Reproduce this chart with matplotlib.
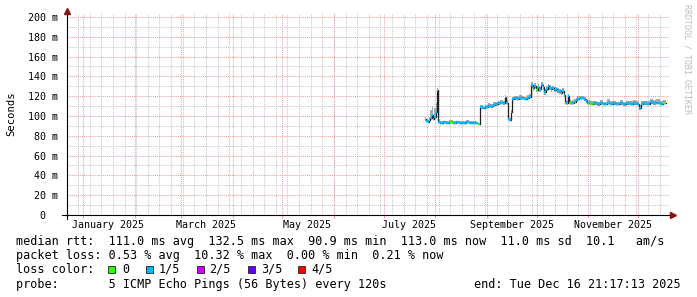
import matplotlib

matplotlib.use("Agg")
import matplotlib.pyplot as plt  # noqa: E402
import numpy as np  # noqa: E402
from matplotlib.patches import Rectangle  # noqa: E402

W, H = 697, 297
MONO = "DejaVu Sans Mono"

# sample start times, days since 2025-01-01
days = [
    205.8, 206.6, 207.4, 208.2, 209.0, 209.8, 210.6, 211.4, 212.2, 212.9, 213.6,
    214.8, 216.5, 218.5, 220.5, 222.5, 224.5, 226.5, 228.5, 230.5, 232.5, 234.5, 236.5, 237.7,
    238.9, 240.5, 242.0, 243.5, 245.0, 246.5, 248.0, 249.5, 251.0, 252.5, 253.9, 254.8, 255.7, 256.6, 257.4,
    258.1, 259.5, 261.0, 262.5, 264.0, 265.5, 267.0, 268.5,
    269.6, 270.5, 271.5, 272.5, 273.5, 274.5, 275.5, 276.5, 277.5, 278.5, 279.5, 280.5, 281.5,
    282.5, 283.5, 284.5, 285.5, 286.5, 287.5, 288.5, 289.3,
    290.1, 291.0, 291.8, 292.6, 293.5, 294.5, 295.5, 296.5, 297.5, 298.5, 299.5, 300.5, 301.5, 302.5, 303.5,
    305.0, 307.0, 309.0, 311.0, 313.0, 315.0, 317.0, 319.0, 321.0, 323.0, 325.0, 327.0, 329.0, 331.0,
    333.0, 334.6, 335.5, 337.0, 339.0, 341.0, 343.0, 345.0, 347.0, 349.0,
]
end_day = 350.8

# median rtt (ms)
median_ms = [
    96.5, 95.0, 94.0, 96.0, 98.0, 101.0, 97.0, 99.0, 104.0, 126.0, 93.5,
    93.0, 93.5, 93.0, 93.5, 92.8, 93.5, 93.2, 93.0, 93.6, 93.0, 93.4, 92.5, 91.5,
    109.0, 108.5, 109.5, 110.5, 110.0, 111.5, 112.0, 113.0, 113.5, 113.0, 119.5, 113.5, 97.0, 96.0, 104.0,
    117.5, 118.0, 117.5, 118.0, 118.5, 117.5, 118.5, 119.5,
    131.0, 128.0, 130.5, 126.5, 129.5, 127.0, 131.5, 129.0, 124.0, 127.5, 130.0, 128.5, 127.0,
    128.5, 126.5, 127.5, 125.5, 125.0, 123.5, 125.5, 121.0,
    113.5, 113.0, 120.0, 113.5, 113.0, 113.5, 114.5, 116.0, 117.5, 118.5, 118.0, 118.5, 117.0, 115.0, 113.5,
    112.5, 113.0, 112.0, 113.0, 112.5, 113.5, 112.5, 113.0, 112.5, 113.0, 112.0, 113.0, 112.5, 113.0,
    112.5, 108.0, 112.5, 113.0, 112.5, 114.0, 113.0, 113.5, 112.5, 113.5,
]

# smoke (ping spread) top and bottom (ms)
smoke_hi = [
    99, 97, 96, 99, 106, 109, 100, 108, 113, 128, 96,
    95, 95, 95, 96, 94.5, 95, 95, 94.5, 95.5, 95, 95, 94, 93,
    111, 110.5, 111.5, 113, 112, 114, 114, 115, 116, 115, 121, 116, 100, 98, 106,
    119.5, 120, 120, 121, 120.5, 119.5, 121, 122,
    134, 131, 133, 130, 132, 129, 134, 132, 127, 130, 132, 131, 129,
    130, 129, 129.5, 128, 127, 126, 128, 124,
    116, 115, 122, 116, 115, 116, 117, 118, 120, 120.5, 120, 120.5, 119, 117, 116,
    115, 115, 114.5, 116, 114.5, 117, 115, 115, 114.5, 116, 114.5, 115, 115, 116,
    115, 111, 115, 115, 115, 117.5, 116, 117, 115, 116.5,
]
smoke_lo = [
    95, 93.5, 92.5, 94.5, 96, 98, 95.5, 97, 101, 123, 92.5,
    92, 92.5, 92, 92.5, 91.8, 92.5, 92.2, 92, 92.6, 92, 92.4, 91.5, 90.5,
    107.5, 107, 108, 109, 108.5, 110, 110.5, 111.5, 112, 111.5, 117, 112, 95.5, 94.5, 102,
    116, 116.5, 116, 116.5, 117, 116, 117, 118,
    128, 125.5, 128, 124, 127, 124.5, 129, 126.5, 121.5, 125, 127.5, 126, 124.5,
    126, 124, 125, 123, 122.5, 121, 123, 119,
    112, 111.5, 118, 112, 111.5, 112, 113, 114.5, 116, 117, 116.5, 117, 115.5, 113.5, 112,
    111, 111.5, 110.5, 111.5, 111, 112, 111, 111.5, 111, 111.5, 110.5, 111.5, 111, 111.5,
    111, 106.5, 111, 111.5, 111, 112.5, 111.5, 112, 111, 112,
]

# packet loss bucket per sample (0 -> 0/5, 1 -> 1/5, ...)
loss = [
    0, 1, 1, 1, 1, 1, 1, 1, 1, 0, 1,
    1, 1, 1, 0, 1, 1, 1, 1, 1, 1, 1, 1, 0,
    1, 1, 1, 1, 1, 1, 1, 1, 1, 1, 0, 1, 1, 1, 1,
    1, 1, 1, 1, 1, 1, 1, 1,
    1, 1, 1, 0, 1, 1, 1, 1, 1, 1, 1, 1, 1,
    1, 1, 1, 1, 1, 1, 1, 1,
    1, 1, 1, 0, 1, 1, 1, 1, 1, 1, 1, 1, 1, 1, 1,
    0, 1, 1, 1, 1, 1, 1, 1, 1, 1, 1, 1, 1, 1,
    1, 1, 1, 1, 1, 1, 1, 1, 1, 0,
]

loss_colors = ["#26ff00", "#00b8ff", "#d400ff", "#5e00ff", "#ff0000"]
loss_labels = ["0", "1/5", "2/5", "3/5", "4/5"]

yticks = [0, 20, 40, 60, 80, 100, 120, 140, 160, 180, 200]
ytick_labels = ["0  ", "20 m", "40 m", "60 m", "80 m", "100 m", "120 m",
                "140 m", "160 m", "180 m", "200 m"]
month_labels = ["January 2025", "March 2025", "May 2025",
                "July 2025", "September 2025", "November 2025"]

legend_rows = [
    "median rtt:  111.0 ms avg  132.5 ms max  90.9 ms min  113.0 ms now  11.0 ms sd  10.1   am/s",
    "packet loss: 0.53 % avg  10.32 % max  0.00 % min  0.21 % now",
    "loss color:",
    "probe:       5 ICMP Echo Pings (56 Bytes) every 120s",
]
end_text = "end: Tue Dec 16 21:17:13 2025"


def fx(px):
    return px / W


def fy(py):
    return 1 - py / H


base = np.datetime64("2025-01-01")
month_starts = (np.arange("2025-01", "2026-01", dtype="datetime64[M]")
                .astype("datetime64[D]") - base).astype(int)
# weekly minor grid on Sundays (2024-12-29 is a Sunday)
first_sun = (np.datetime64("2024-12-29") - base).astype(int)
sundays = np.arange(first_sun, 353, 7)
label_months = np.arange("2025-01", "2026-01", 2, dtype="datetime64[M]")
label_pos = (label_months.astype("datetime64[D]") - base).astype(int) + 15

fig = plt.figure(figsize=(W / 100, H / 100), dpi=100)
fig.patch.set_facecolor("white")
ax = fig.add_axes([fx(67), 1 - 215 / H, 602 / W, 202 / H])
for s in ax.spines.values():
    s.set_visible(False)

dot = (0, (1, 1))
minor_c = "#c8c8c8"
major_c = "#e6a4a4"
for v in range(10, 200, 20):
    ax.axhline(v, color=minor_c, lw=0.75, ls=dot, zorder=1)
for d in sundays:
    ax.axvline(d, color=minor_c, lw=0.75, ls=dot, zorder=1)
for v in yticks[1:]:
    ax.axhline(v, color=major_c, lw=0.75, ls=dot, zorder=2)
for d in month_starts:
    ax.axvline(d, color=major_c, lw=0.75, ls=dot, zorder=2)

edges = list(days) + [end_day]
ax.fill_between(edges, smoke_lo + [smoke_lo[-1]], smoke_hi + [smoke_hi[-1]],
                step="post", color="#a8a8a8", lw=0, zorder=3)
ax.step(edges, median_ms + [median_ms[-1]], where="post",
        color="#202020", lw=0.9, zorder=4)
for i, m in enumerate(median_ms):
    ax.plot([edges[i], edges[i + 1]], [m, m], color=loss_colors[loss[i]],
            lw=1.7, solid_capstyle="butt", zorder=5)

# axes with arrows
ax.plot([-0.008, 1.003], [0, 0], transform=ax.transAxes, color="#000000",
        lw=0.8, clip_on=False, zorder=6)
ax.plot([0, 0], [-0.02, 1.0], transform=ax.transAxes, color="#000000",
        lw=0.8, clip_on=False, zorder=6)
ax.plot([1.006], [0], transform=ax.transAxes, marker=">", ms=4.5,
        color="#8b1010", clip_on=False, zorder=7)
ax.plot([0], [1.012], transform=ax.transAxes, marker="^", ms=4.5,
        color="#8b1010", clip_on=False, zorder=7)

ax.set_yticks(yticks)
ax.set_yticklabels(ytick_labels, family=MONO, fontsize=7.2)
ax.set_xticks(month_starts)
ax.set_xticklabels([])
ax.tick_params(axis="y", length=0, pad=6.5)
ax.tick_params(axis="x", length=2.2, width=0.75, color=major_c, pad=0)
# limits last, so the tick setters cannot widen them
ax.set_xlim(-9.63, 352.6)
ax.set_ylim(0, 204)
for d, lab in zip(label_pos, month_labels):
    ax.text(d, -0.025, lab, transform=ax.get_xaxis_transform(), ha="center",
            va="top", family=MONO, fontsize=7.2)

fig.text(fx(11), fy(114), "Seconds", rotation=90, ha="center", va="center",
         family=MONO, fontsize=7.6)
fig.text(fx(687), fy(4), "RRDTOOL / TOBI OETIKER", rotation=270, ha="center",
         va="top", family=MONO, fontsize=6.0, color="#bdbdbd")

baselines = [245, 259, 273, 288]
for txt, yb in zip(legend_rows, baselines):
    fig.text(fx(16), fy(yb), txt, ha="left", va="baseline", family=MONO,
             fontsize=8.5)
fig.text(fx(681), fy(288), end_text, ha="right", va="baseline", family=MONO,
         fontsize=8.5)

box_x = [108.3, 145.7, 197.3, 248.3, 297.7]
lab_x = [122.5, 158.5, 209.2, 261.0, 311.0]
for bx, lx, c, lab in zip(box_x, lab_x, loss_colors, loss_labels):
    fig.add_artist(Rectangle((fx(bx), fy(273)), 7 / W, 7 / H, facecolor=c,
                             edgecolor="#202020", lw=0.6,
                             transform=fig.transFigure))
    fig.text(fx(lx), fy(273), lab, ha="left", va="baseline", family=MONO,
             fontsize=8.5)

fig.savefig("out.png", dpi=100, facecolor="white")
